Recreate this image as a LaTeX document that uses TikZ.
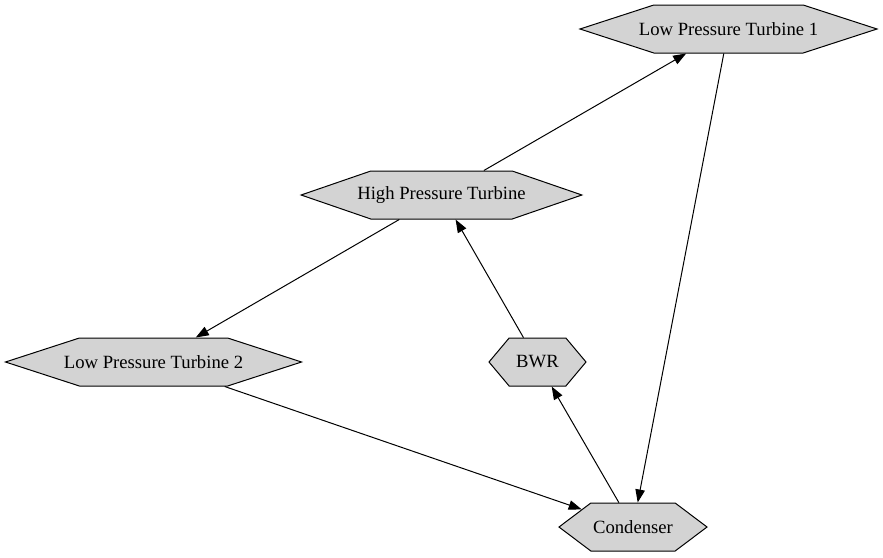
\documentclass[tikz,border=0pt]{standalone}
\usepackage{fontspec}
\setmainfont{Liberation Serif}
\usetikzlibrary{shapes.symbols,arrows.meta}
\definecolor{gvgray}{HTML}{D3D3D3}
\tikzset{
  hexa/.style={shape=signal, signal to=west and east, draw=black, fill=gvgray,
    line width=1pt, inner sep=0pt, minimum height=48pt, font=\fontsize{18.67pt}{22pt}\selectfont},
  edge/.style={line width=1pt, -{Triangle[length=13pt,width=9.5pt]}}
}
\begin{document}
\begin{tikzpicture}[x=1pt,y=-1pt]
\useasboundingbox (0,0) rectangle (883,557);
\node[hexa, minimum width=296pt, inner xsep=-15pt, signal pointer angle=36] (lpt1) at (728.5,29) {Low Pressure Turbine 1};
\node[hexa, minimum width=280pt, inner xsep=-13.5pt, signal pointer angle=38] (hpt) at (441.5,195) {High Pressure Turbine};
\node[hexa, minimum width=296pt, inner xsep=-15.5pt, signal pointer angle=36] (lpt2) at (153.5,362) {Low Pressure Turbine 2};
\node[hexa, minimum width=97pt, signal pointer angle=100] (bwr) at (537.5,362) {BWR};
\node[hexa, minimum width=148pt, signal pointer angle=74] (cond) at (633,527) {Condenser};
\draw[edge] (hpt) -- (lpt1);
\draw[edge] (hpt) -- (lpt2);
\draw[edge] (lpt1) -- (cond);
\draw[edge] (lpt2) -- (cond);
\draw[edge] (bwr) -- (hpt);
\draw[edge] (cond) -- (bwr);
\end{tikzpicture}
\end{document}
